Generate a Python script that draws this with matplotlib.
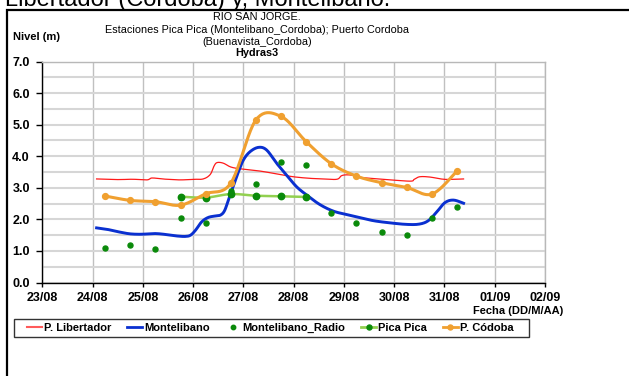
import numpy as np
import matplotlib
matplotlib.use("Agg")
import matplotlib.pyplot as plt
from matplotlib.lines import Line2D
from matplotlib.patches import Rectangle

plt.rcParams['font.family'] = ['Liberation Sans', 'DejaVu Sans']

# ---- data (day of month, August; 32 = 01/09) ----
tick_days = list(range(23, 34))
tick_labels = ["23/08", "24/08", "25/08", "26/08", "27/08", "28/08",
               "29/08", "30/08", "31/08", "01/09", "02/09"]

libertador_t = [24.08, 24.5, 24.8, 25.08, 25.18, 25.38, 25.6, 25.77, 26.0, 26.2,
                26.34, 26.42, 26.48, 26.6, 26.73, 26.85, 27.0, 27.33, 27.66, 27.99,
                28.32, 28.6, 28.86, 28.95, 29.05, 29.19, 29.32, 29.78, 30.31, 30.4,
                30.51, 30.71, 30.98, 31.2, 31.38]
libertador_v = [3.28, 3.26, 3.27, 3.25, 3.31, 3.28, 3.26, 3.25, 3.27, 3.28,
                3.42, 3.70, 3.80, 3.78, 3.67, 3.62, 3.59, 3.53, 3.44, 3.35,
                3.30, 3.28, 3.27, 3.38, 3.41, 3.39, 3.33, 3.27, 3.21, 3.27,
                3.35, 3.34, 3.27, 3.27, 3.28]

montelibano_t = [24.08, 24.3, 24.5, 24.7, 24.85, 25.0, 25.2, 25.35, 25.5, 25.7,
                 25.85, 25.95, 26.05, 26.17, 26.3, 26.45, 26.55, 26.63, 26.72, 26.8,
                 26.9, 27.0, 27.13, 27.3, 27.46, 27.66, 27.86, 28.06, 28.26, 28.52,
                 28.79, 29.06, 29.25, 29.58, 29.91, 30.25, 30.5, 30.68, 30.85, 31.01,
                 31.18, 31.38]
montelibano_v = [1.73, 1.68, 1.61, 1.55, 1.53, 1.53, 1.55, 1.54, 1.51, 1.47,
                 1.46, 1.50, 1.66, 1.92, 2.06, 2.11, 2.14, 2.29, 2.70, 3.05,
                 3.50, 3.88, 4.14, 4.28, 4.20, 3.78, 3.40, 3.03, 2.77, 2.47,
                 2.26, 2.15, 2.08, 1.96, 1.89, 1.84, 1.85, 1.96, 2.24, 2.53,
                 2.61, 2.51]

radio_t = [24.25, 24.75, 25.25, 25.75, 26.25, 26.75, 27.25, 27.75, 28.25,
           28.75, 29.25, 29.75, 30.25, 30.75, 31.25]
radio_v = [1.10, 1.20, 1.06, 2.05, 1.90, 2.91, 3.11, 3.81, 3.72,
           2.21, 1.90, 1.61, 1.51, 2.05, 2.40]

picapica_t = [25.75, 26.25, 26.75, 27.25, 27.75, 28.25]
picapica_v = [2.72, 2.69, 2.80, 2.75, 2.73, 2.71]

cordoba_t = [24.25, 24.75, 25.25, 25.75, 26.25, 26.75, 27.25, 27.75, 28.25,
             28.75, 29.25, 29.75, 30.25, 30.75, 31.25]
cordoba_v = [2.74, 2.60, 2.56, 2.45, 2.81, 3.15, 5.15, 5.26, 4.46,
             3.76, 3.37, 3.16, 3.01, 2.80, 3.53]


def smooth(x, y, n=24):
    """Smoothed path through the points (cubic Bezier, 1/6 tangents)."""
    pts = np.column_stack([x, y]).astype(float)
    P = np.vstack([pts[0], pts, pts[-1]])
    t = np.linspace(0, 1, n)[:, None]
    out = []
    for i in range(1, len(P) - 2):
        p0, p1, p2, p3 = P[i - 1], P[i], P[i + 1], P[i + 2]
        c1 = p1 + (p2 - p0) / 6.0
        c2 = p2 - (p3 - p1) / 6.0
        seg = ((1 - t) ** 3) * p1 + 3 * ((1 - t) ** 2) * t * c1 \
            + 3 * (1 - t) * t ** 2 * c2 + t ** 3 * p2
        out.append(seg if i == 1 else seg[1:])
    s = np.vstack(out)
    return s[:, 0], s[:, 1]


W, H = 629, 376
fig = plt.figure(figsize=(W / 100, H / 100), dpi=100)
fig.patch.set_facecolor("white")

ax = fig.add_axes([42.3 / W, 1 - 282.5 / H, (545 - 42.3) / W, (282.5 - 61.5) / H])

RED = "#ff1a1a"
BLUE = "#0a30d0"
DKGREEN = "#0a8a0a"
LTGREEN = "#92d050"
ORANGE = "#f0a030"

ax.plot(*smooth(libertador_t, libertador_v, 8), color=RED, lw=0.9, zorder=3)
ax.plot(*smooth(montelibano_t, montelibano_v, 12), color=BLUE, lw=2.1, zorder=4)
ax.plot(radio_t, radio_v, ls="none", marker="o", ms=3.6, color=DKGREEN,
        mec=DKGREEN, zorder=6)
ax.plot(*smooth(picapica_t, picapica_v), color=LTGREEN, lw=1.8, zorder=3)
ax.plot(picapica_t, picapica_v, ls="none", marker="o", ms=4.6, color=DKGREEN,
        zorder=5)
ax.plot(*smooth(cordoba_t, cordoba_v), color=ORANGE, lw=2.2, zorder=5)
ax.plot(cordoba_t, cordoba_v, ls="none", marker="o", ms=4.2, color=ORANGE,
        zorder=5)

ax.set_xlim(23, 33)
ax.set_ylim(0, 7)
ax.set_xticks(tick_days)
ax.set_xticklabels(tick_labels)
ax.set_yticks(np.arange(0, 7.01, 1.0))
ax.set_yticklabels([f"{v:.1f}" for v in np.arange(0, 7.01, 1.0)])
ax.set_yticks(np.arange(0.5, 7.0, 1.0), minor=True)

for lbl in ax.get_xticklabels() + ax.get_yticklabels():
    lbl.set_fontweight("bold")
    lbl.set_fontsize(9)

ax.tick_params(axis="both", which="major", direction="out", length=4,
               width=1, color="black")
ax.tick_params(axis="y", which="major", pad=5)
ax.tick_params(axis="x", which="major", pad=4, length=3)
ax.tick_params(axis="y", which="minor", length=0)

ax.grid(axis="y", which="both", color="#d6d6d6", lw=1.5, zorder=0)
ax.grid(axis="x", which="major", color="#c0c0c0", lw=1.0, zorder=0)
ax.set_axisbelow(True)

for side in ("left", "bottom"):
    ax.spines[side].set_color("black")
    ax.spines[side].set_linewidth(1.0)
for side in ("top", "right"):
    ax.spines[side].set_color("#b8b8b8")
    ax.spines[side].set_linewidth(1.0)

# title block
cx = 257 / W
fig.text(cx, 1 - 17.5 / H, "RIO SAN JORGE.", ha="center", va="center", fontsize=7.8)
fig.text(cx, 1 - 30 / H, "Estaciones Pica Pica (Montelibano_Cordoba); Puerto Cordoba",
         ha="center", va="center", fontsize=7.8)
fig.text(cx, 1 - 42 / H, "(Buenavista_Cordoba)", ha="center", va="center", fontsize=7.8)
fig.text(cx, 1 - 53.5 / H, "Hydras3", ha="center", va="center", fontsize=7.8,
         fontweight="bold")

fig.text(13 / W, 1 - 37.5 / H, "Nivel (m)", ha="left", va="center", fontsize=8,
         fontweight="bold")
fig.text(563 / W, 1 - 311 / H, "Fecha (DD/M/AA)", ha="right", va="center",
         fontsize=8, fontweight="bold")

# heading from the surrounding document, partly above the frame
fig.text(5 / W, 1 - 6 / H, "Libertador (Cordoba) y, Montelibano.", ha="left",
         va="baseline", fontsize=17)

# outer frame
fig.patches.append(Rectangle((6.8 / W, -0.5), 2.0, (1 - 10 / H) + 0.5,
                             transform=fig.transFigure, fill=False,
                             edgecolor="black", lw=1.6))

# legend
handles = [
    Line2D([], [], color="#ff5a5a", lw=1.5),
    Line2D([], [], color=BLUE, lw=2),
    Line2D([], [], ls="none", marker="o", ms=3.2, color=DKGREEN),
    Line2D([], [], color=LTGREEN, lw=2, marker="o", ms=3.6, mfc=DKGREEN, mec=DKGREEN),
    Line2D([], [], color=ORANGE, lw=2, marker="o", ms=3.6),
]
labels = ["P. Libertador", "Montelibano", "Montelibano_Radio", "Pica Pica", "P. Códoba"]
fig.legend(handles, labels, loc="center left",
           bbox_to_anchor=(27 / W, 1 - 328 / H), ncol=5, frameon=False,
           handlelength=1.35, handletextpad=0.15, columnspacing=1.45,
           borderpad=0, borderaxespad=0,
           prop={"weight": "bold", "size": 8})
fig.patches.append(Rectangle((14 / W, 1 - 337 / H), (529 - 14) / W, 18 / H,
                             transform=fig.transFigure, fill=False,
                             edgecolor="#333333", lw=1.0))

fig.savefig("out.png", dpi=100)
